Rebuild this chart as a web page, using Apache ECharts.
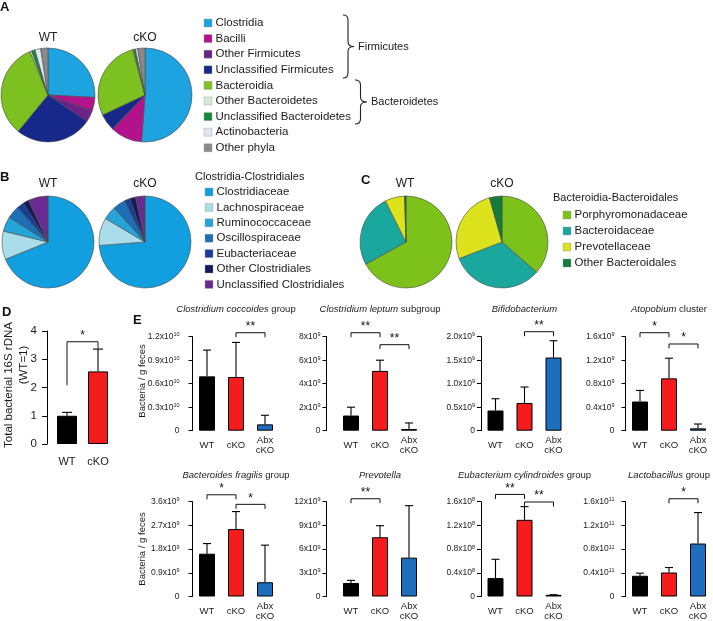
<!DOCTYPE html>
<html><head><meta charset="utf-8">
<script src="https://cdn.jsdelivr.net/npm/echarts@6/dist/echarts.min.js"></script>
<style>html,body{margin:0;padding:0;background:#fff}#c{width:713px;height:621px}</style>
</head><body><div id="c"></div>
<script>
// ---------- Panel A: phyla ----------
const phylaNames = ['Clostridia','Bacilli','Other Firmicutes','Unclassified Firmicutes','Bacteroidia','Other Bacteroidetes','Unclassified Bacteroidetes','Actinobacteria','Other phyla'];
const phylaWT  = [26, 4.7, 3.9, 26.7, 33, 0.6, 1.2, 2, 2.5];
const phylaCKO = [51.5, 10.8, 0.3, 5.8, 28, 0.3, 0.6, 0.8, 2.5];
const phylaColors = ['#1ea3e1','#b3128c','#6b2289','#16288a','#7cc11f','#d5ecd3','#14883c','#dfe6ef','#8a8a8a'];

// ---------- Panel B: Clostridiales ----------
const clostNames = ['Clostridiaceae','Lachnospiraceae','Ruminococcaceae','Oscillospiraceae','Eubacteriaceae','Other Clostridiales','Unclassified Clostridiales'];
const clostWT  = [69, 10, 5.2, 4.5, 2.5, 2, 7];
const clostCKO = [73.6, 9.7, 4.7, 4.4, 2, 2, 3.3];
const clostColors = ['#129fe0','#a9dde9','#24a4d9','#1b6fb7','#1a3c99','#121b57','#6a2b91'];

// ---------- Panel C: Bacteroidales ----------
const bactNames = ['Porphyromonadaceae','Bacteroidaceae','Prevotellaceae','Other Bacteroidales'];
const bactWT  = [67, 25.6, 6.9, 0.5];
const bactCKO = [36.5, 32.7, 26.5, 4.4];
const bactColors = ['#7cc21a','#1aa89e','#dce31c','#167a3c'];

// ---------- Panel D ----------
const dCats = ['WT','cKO'];
const dMeans = [1.0, 2.57];
const dErrTop = [1.12, 3.36];
const dSig = [[0, 1, 3.62, '*', 2.08, 3.38]];

// ---------- Panel E ----------
const eCats = ['WT','cKO','Abx\ncKO'];
const eTitleItalic = ['Clostridium coccoides','Clostridium leptum','Bifidobacterium','Atopobium','Bacteroides fragilis','Prevotella','Eubacterium cylindroides','Lactobacillus'];
const eTitleRest   = [' group',' subgroup','',' cluster',' group','',' group',' group'];
const eMax   = [1.2, 8, 2.0, 1.6, 3.6, 12, 1.6, 1.6];
const eStep  = [0.3, 2, 0.5, 0.4, 0.9, 3, 0.4, 0.4];
const eDec   = [1, 0, 1, 1, 1, 0, 1, 1];
const eExp   = ['10','9','9','9','9','9','8','11'];
const eMeans = [
  [0.694, 0.686, 0.081],
  [1.29, 5.09, 0.14],
  [0.43, 0.59, 1.557],
  [0.497, 0.891, 0.04],
  [1.625, 2.56, 0.54],
  [1.71, 7.5, 4.92],
  [0.311, 1.294, 0.028],
  [0.35, 0.405, 0.894]
];
const eErrTop = [
  [1.029, 1.127, 0.197],
  [2.0, 6.0, 0.66],
  [0.68, 0.93, 1.914],
  [0.686, 1.234, 0.114],
  [2.01, 3.225, 1.95],
  [2.04, 8.96, 11.5],
  [0.628, 1.517, 0.03],
  [0.394, 0.489, 1.417]
];
const eSig = [
  [[1, 2, 1.251, '**']],
  [[0, 1, 8.34, '**'], [1, 2, 7.32, '**']],
  [[1, 2, 2.106, '**']],
  [[0, 1, 1.668, '*'], [1, 2, 1.476, '*']],
  [[0, 1, 3.8625, '*'], [1, 2, 3.50, '*']],
  [[0, 1, 12.375, '**']],
  [[0, 1, 1.723, '**'], [1, 2, 1.595, '**']],
  [[1, 2, 1.65, '*']]
];
const barColors = ['#000000', '#f41c1c', '#1f6dbd'];

// ---------- layout ----------
const FONT = '"Liberation Sans", Arial, Helvetica, sans-serif';
const TXT = '#1a1a1a';
const grids = [], xAxes = [], yAxes = [], series = [], graphics = [];

function addText(text, x, y, size, opts) {
  opts = opts || {};
  graphics.push({
    type: 'text', x: x, y: y, rotation: opts.rotation || 0, silent: true,
    style: Object.assign({
      text: text, fontSize: size, fontFamily: FONT, fill: TXT,
      fontWeight: opts.bold ? 'bold' : 'normal',
      align: opts.align || 'left', verticalAlign: 'middle'
    }, opts.style || {})
  });
}

function addPie(names, vals, colors, cx, cy, r) {
  series.push({
    type: 'pie', center: [cx, cy], radius: r, startAngle: 90, clockwise: true,
    silent: true, animation: false, label: {show: false}, labelLine: {show: false},
    itemStyle: {borderColor: '#4a4a4a', borderWidth: 0.6},
    data: names.map((n, i) => ({name: n, value: vals[i], itemStyle: {color: colors[i]}}))
  });
}

function addLegend(names, colors, x, y0, gap) {
  names.forEach((n, i) => {
    const y = y0 + i * gap;
    graphics.push({type: 'rect', silent: true, shape: {x: x, y: y - 4, width: 8, height: 8},
      style: {fill: colors[i], stroke: '#9a9a9a', lineWidth: 0.4}});
    addText(n, x + 11.5, y, 11.5);
  });
}

function addBrace(x0, y0, y1, xm, xt) {
  const ym = (y0 + y1) / 2, r = 5;
  const st = {stroke: '#222', lineWidth: 1.1, fill: 'none'};
  const el = [
    {type: 'bezierCurve', shape: {x1: x0, y1: y0, cpx1: xm, cpy1: y0, x2: xm, y2: y0 + r}},
    {type: 'line', shape: {x1: xm, y1: y0 + r, x2: xm, y2: ym - r}},
    {type: 'bezierCurve', shape: {x1: xm, y1: ym - r, cpx1: xm, cpy1: ym, x2: xt, y2: ym}},
    {type: 'bezierCurve', shape: {x1: xt, y1: ym, cpx1: xm, cpy1: ym, x2: xm, y2: ym + r}},
    {type: 'line', shape: {x1: xm, y1: ym + r, x2: xm, y2: y1 - r}},
    {type: 'bezierCurve', shape: {x1: xm, y1: y1 - r, cpx1: xm, cpy1: y1, x2: x0, y2: y1}}
  ];
  el.forEach(e => { e.style = st; e.silent = true; graphics.push(e); });
}

// Panel letters
addText('A', 0, 7, 13, {bold: true, style: {fill: '#111'}});
addText('B', 0, 177, 13, {bold: true, style: {fill: '#111'}});
addText('C', 361, 180, 13, {bold: true, style: {fill: '#111'}});
addText('D', 2, 312, 13, {bold: true, style: {fill: '#111'}});
addText('E', 133, 320, 13, {bold: true, style: {fill: '#111'}});

// Pies
addPie(phylaNames, phylaWT, phylaColors, 48, 95, 47);
addPie(phylaNames, phylaCKO, phylaColors, 145, 95, 47);
addText('WT', 48, 38, 12, {align: 'center'});
addText('cKO', 145, 38, 12, {align: 'center'});
addLegend(phylaNames, phylaColors, 204, 23, 15.6);
addBrace(343, 15, 78, 348, 354);
addText('Firmicutes', 358, 47, 11);
addBrace(355, 80, 124, 360.5, 366.5);
addText('Bacteroidetes', 371, 102, 11);

addPie(clostNames, clostWT, clostColors, 48, 242, 46);
addPie(clostNames, clostCKO, clostColors, 145, 242, 46);
addText('WT', 48, 184, 12, {align: 'center'});
addText('cKO', 145, 184, 12, {align: 'center'});
addText('Clostridia-Clostridiales', 195, 177, 11);
addLegend(clostNames, clostColors, 205, 192, 15.4);

addPie(bactNames, bactWT, bactColors, 406, 242, 46);
addPie(bactNames, bactCKO, bactColors, 502, 242, 46);
addText('WT', 405, 184, 12, {align: 'center'});
addText('cKO', 502, 184, 12, {align: 'center'});
addText('Bacteroidia-Bacteroidales', 553, 198, 11);
addLegend(bactNames, bactColors, 563, 215, 16);

// ---------- custom renderers ----------
function errSeries(k, means, tops, capHalf) {
  return {
    type: 'custom', xAxisIndex: k, yAxisIndex: k, silent: true, animation: false, clip: false,
    data: means.map((v, i) => [i, v, tops[i]]),
    renderItem: function (params, api) {
      const top = api.value(2);
      if (top == null || isNaN(top)) return;
      const p0 = api.coord([api.value(0), api.value(1)]);
      const p1 = api.coord([api.value(0), top]);
      const st = {stroke: '#000', lineWidth: 1.1};
      return {type: 'group', children: [
        {type: 'line', shape: {x1: p0[0], y1: p0[1], x2: p1[0], y2: p1[1]}, style: st},
        {type: 'line', shape: {x1: p1[0] - capHalf, y1: p1[1], x2: p1[0] + capHalf, y2: p1[1]}, style: st}
      ]};
    }
  };
}
function sigSeries(k, sigs, fs) {
  return {
    type: 'custom', xAxisIndex: k, yAxisIndex: k, silent: true, animation: false, clip: false,
    data: sigs.map(s => [s[0], s[2]]),
    renderItem: function (params, api) {
      const s = sigs[params.dataIndex];
      const a = api.coord([s[0], s[2]]);
      const b = api.coord([s[1], s[2]]);
      const la = s.length > 4 ? api.coord([s[0], s[4]])[1] : a[1] + 4.5;
      const lb = s.length > 5 ? api.coord([s[1], s[5]])[1] : b[1] + 4.5;
      return {type: 'group', children: [
        {type: 'polyline', shape: {points: [[a[0], la], [a[0], a[1]], [b[0], b[1]], [b[0], lb]]},
          style: {stroke: '#111', lineWidth: 1, fill: 'none'}},
        {type: 'text', style: {text: s[3], x: (a[0] + b[0]) / 2, y: a[1] - 6, align: 'center',
          verticalAlign: 'middle', fontSize: fs, fontFamily: FONT, fill: '#111'}}
      ]};
    }
  };
}

// ---------- Panel E ----------
const colLeft = [192.5, 336.5, 481, 625.5];
const colOffset = [0, 10, 0, 0];
const colMargin = [13, 6, 6, 11];
const rowTop = [336.7, 501.7];
const rowH = [94, 96];
const colW = 87;

for (let k = 0; k < 8; k++) {
  const row = k >> 2, col = k % 4;
  grids.push({left: colLeft[col], top: rowTop[row], width: colW, height: rowH[row]});
  xAxes.push({gridIndex: k, type: 'category', data: eCats,
    axisLine: {show: false}, axisTick: {show: false},
    axisLabel: {interval: 0, margin: 14.5, verticalAlign: 'middle', lineHeight: 10,
      fontSize: 9.5, color: TXT, fontFamily: FONT}});
  const dec = eDec[k], ex = eExp[k];
  yAxes.push({gridIndex: k, type: 'value', min: 0, max: eMax[k], interval: eStep[k], offset: colOffset[col],
    axisLine: {show: true, lineStyle: {color: '#000', width: 1}},
    axisTick: {show: true, length: 4, lineStyle: {color: '#000', width: 1}},
    splitLine: {show: false},
    axisLabel: {margin: colMargin[col], fontFamily: FONT, color: TXT,
      formatter: function (v) {
        if (Math.abs(v) < 1e-9) return '{b|0}';
        return '{b|' + v.toFixed(dec) + 'x10}{s|' + ex + '}';
      },
      rich: {b: {fontSize: 8.5, lineHeight: 10, color: TXT, fontFamily: FONT},
             s: {fontSize: 5.5, lineHeight: 10, verticalAlign: 'top', color: TXT, fontFamily: FONT, padding: [0, 0, 3, 0]}}}});
  series.push({type: 'bar', xAxisIndex: k, yAxisIndex: k, barWidth: 16, silent: true, animation: false,
    itemStyle: {borderColor: '#000', borderWidth: 1},
    data: eMeans[k].map((v, i) => ({value: v, itemStyle: {color: barColors[i]}}))});
  series.push(errSeries(k, eMeans[k], eErrTop[k], 4));
  series.push(sigSeries(k, eSig[k], 12));
  graphics.push({type: 'text', x: colLeft[col] + colW / 2, y: row === 0 ? 309.5 : 475.5, silent: true,
    style: {text: '{i|' + eTitleItalic[k] + '}' + (eTitleRest[k] ? '{n|' + eTitleRest[k] + '}' : ''),
      align: 'center', verticalAlign: 'middle',
      rich: {i: {fontStyle: 'italic', fontSize: 9.5, fontFamily: FONT, fill: TXT},
             n: {fontSize: 9.5, fontFamily: FONT, fill: TXT}}}});
}
addText('Bacteria / g feces', 142, 381, 9.5, {rotation: Math.PI / 2, align: 'center'});
addText('Bacteria / g feces', 142, 549, 9.5, {rotation: Math.PI / 2, align: 'center'});

// ---------- Panel D ----------
grids.push({left: 51.5, top: 331, width: 62, height: 113});
xAxes.push({gridIndex: 8, type: 'category', data: dCats, axisLine: {show: false}, axisTick: {show: false},
  axisLabel: {margin: 18, verticalAlign: 'middle', fontSize: 11, color: TXT, fontFamily: FONT}});
yAxes.push({gridIndex: 8, type: 'value', min: 0, max: 4, interval: 1, offset: 4.5,
  axisLine: {show: true, lineStyle: {color: '#000', width: 1}},
  axisTick: {show: true, length: 5, lineStyle: {color: '#000'}},
  splitLine: {show: false},
  axisLabel: {margin: 10, fontSize: 11.5, color: TXT, fontFamily: FONT}});
series.push({type: 'bar', xAxisIndex: 8, yAxisIndex: 8, barWidth: 20, silent: true, animation: false,
  itemStyle: {borderColor: '#000', borderWidth: 1},
  data: dMeans.map((v, i) => ({value: v, itemStyle: {color: barColors[i]}}))});
series.push(errSeries(8, dMeans, dErrTop, 5));
series.push(sigSeries(8, dSig, 12));
addText('Total bacterial 16S rDNA', 9, 385, 11.5, {rotation: Math.PI / 2, align: 'center'});
addText('(WT=1)', 24, 365, 11.5, {rotation: Math.PI / 2, align: 'center'});

const chart = echarts.init(document.getElementById('c'), null, {renderer: 'canvas'});
chart.setOption({
  animation: false,
  textStyle: {fontFamily: FONT},
  grid: grids, xAxis: xAxes, yAxis: yAxes, series: series,
  graphic: {elements: graphics}
});
</script></body></html>
